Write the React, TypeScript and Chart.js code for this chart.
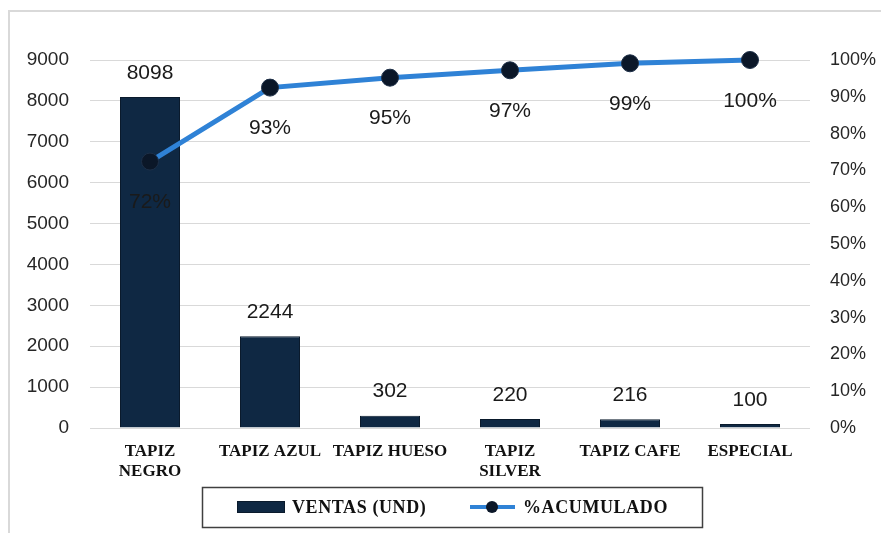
import React, { useEffect, useRef } from 'react';
import { Chart, registerables } from 'chart.js';

Chart.register(...registerables);

const categories: (string | string[])[] = [
  ['TAPIZ', 'NEGRO'],
  'TAPIZ AZUL',
  'TAPIZ HUESO',
  ['TAPIZ', 'SILVER'],
  'TAPIZ CAFE',
  'ESPECIAL',
];
const ventas = [8098, 2244, 302, 220, 216, 100];
const acumulado = [0.724, 0.925, 0.952, 0.972, 0.991, 1.0];
const acumuladoLabels = ['72%', '93%', '95%', '97%', '99%', '100%'];
const seriesNames = ['VENTAS (UND)', '%ACUMULADO'];

const BAR_COLOR = '#0f2843';
const BAR_BORDER = '#0a1a2c';
const LINE_COLOR = '#2f82d6';
const POINT_COLOR = '#0b1728';
const SANS = '"Liberation Sans", Arial, sans-serif';
const SERIF = '"Liberation Serif", "Times New Roman", serif';

const decor = {
  id: 'decor',
  beforeDraw(chart: any) {
    const ctx = chart.ctx;
    ctx.save();
    ctx.fillStyle = '#d9d9d9';
    ctx.fillRect(8, 10, 2, chart.height - 10);
    ctx.fillRect(8, 10, chart.width - 8, 2);
    ctx.restore();
  },
  afterDatasetsDraw(chart: any) {
    const ctx = chart.ctx;
    ctx.save();
    ctx.font = '21px ' + SANS;
    ctx.fillStyle = '#1a1a1a';
    ctx.textAlign = 'center';
    ctx.textBaseline = 'middle';
    const barMeta = chart.getDatasetMeta(0);
    barMeta.data.forEach((el: any, i: number) => {
      ctx.fillText(String(ventas[i]), el.x, el.y - 24);
    });
    const lineMeta = chart.getDatasetMeta(1);
    lineMeta.data.forEach((el: any, i: number) => {
      ctx.fillText(acumuladoLabels[i], el.x, el.y + 41);
    });
    ctx.restore();
  },
  afterDraw(chart: any) {
    const ctx = chart.ctx;
    const area = chart.chartArea;
    const cx = (area.left + area.right) / 2 + 2;
    const w = 500;
    const h = 40;
    const left = Math.round(cx - w / 2);
    const top = 487;
    const cy = top + h / 2;
    ctx.save();
    ctx.strokeStyle = '#404040';
    ctx.lineWidth = 1.5;
    ctx.strokeRect(left + 0.5, top + 0.5, w, h);
    // bar symbol
    ctx.fillStyle = BAR_COLOR;
    ctx.fillRect(left + 35, cy - 6, 48, 12);
    ctx.strokeStyle = BAR_BORDER;
    ctx.lineWidth = 1;
    ctx.strokeRect(left + 35.5, cy - 5.5, 47, 11);
    ctx.font = 'bold 18px ' + SERIF;
    (ctx as any).letterSpacing = '0.6px';
    ctx.fillStyle = '#111';
    ctx.textAlign = 'left';
    ctx.textBaseline = 'middle';
    ctx.fillText(seriesNames[0], left + 90, cy + 1);
    // line symbol
    ctx.strokeStyle = LINE_COLOR;
    ctx.lineWidth = 4;
    ctx.beginPath();
    ctx.moveTo(left + 268, cy);
    ctx.lineTo(left + 313, cy);
    ctx.stroke();
    ctx.fillStyle = POINT_COLOR;
    ctx.beginPath();
    ctx.arc(left + 290, cy, 6, 0, Math.PI * 2);
    ctx.fill();
    ctx.fillStyle = '#111';
    ctx.fillText(seriesNames[1], left + 321, cy + 1);
    ctx.restore();
  },
};

export default function App() {
  const ref = useRef<HTMLCanvasElement | null>(null);
  useEffect(() => {
    if (!ref.current) return;
    const chart = new Chart(ref.current, {
      data: {
        labels: categories as any,
        datasets: [
          {
            type: 'bar',
            label: seriesNames[0],
            data: ventas,
            backgroundColor: BAR_COLOR,
            borderColor: BAR_BORDER,
            borderWidth: 1,
            categoryPercentage: 1,
            barPercentage: 0.5,
            yAxisID: 'y',
            order: 2,
          },
          {
            type: 'line',
            label: seriesNames[1],
            data: acumulado,
            borderColor: LINE_COLOR,
            borderWidth: 5,
            pointRadius: 8.5,
            pointBackgroundColor: POINT_COLOR,
            pointBorderColor: '#1d2f47',
            pointBorderWidth: 1,
            tension: 0,
            clip: false,
            yAxisID: 'y1',
            order: 1,
          },
        ] as any,
      },
      options: {
        responsive: false,
        animation: false,
        layout: { padding: { left: 8, right: 0, top: 60, bottom: 0 } },
        plugins: {
          legend: { display: false },
          tooltip: { enabled: false },
        },
        scales: {
          x: {
            offset: true,
            grid: { display: false, drawTicks: false },
            border: { display: false },
            ticks: {
              autoSkip: false,
              maxRotation: 0,
              minRotation: 0,
              padding: 13,
              color: '#111',
              font: { family: SERIF, size: 17, weight: 'bold', lineHeight: 1.2 },
            },
            afterFit(scale: any) {
              scale.height = 105;
            },
          },
          y: {
            position: 'left',
            min: 0,
            max: 9000,
            ticks: {
              stepSize: 1000,
              padding: 21,
              color: '#262626',
              font: { family: SANS, size: 19 },
              callback: (v: any) => String(v),
            },
            grid: { color: '#d9d9d9', lineWidth: 1, drawTicks: false },
            border: { display: false },
            afterFit(scale: any) {
              scale.width = 82;
            },
          },
          y1: {
            position: 'right',
            min: 0,
            max: 1,
            ticks: {
              stepSize: 0.1,
              padding: 20,
              color: '#262626',
              font: { family: SANS, size: 18 },
              callback: (v: any) => Math.round(Number(v) * 100) + '%',
            },
            grid: { display: false, drawTicks: false },
            border: { display: false },
            afterFit(scale: any) {
              scale.width = 71;
            },
          },
        },
      } as any,
      plugins: [decor],
    });
    return () => chart.destroy();
  }, []);
  return (
    <div style={{ position: 'absolute', left: 0, top: 0, width: 881, height: 533 }}>
      <canvas ref={ref} width={881} height={533} style={{ display: 'block' }} />
    </div>
  );
}
